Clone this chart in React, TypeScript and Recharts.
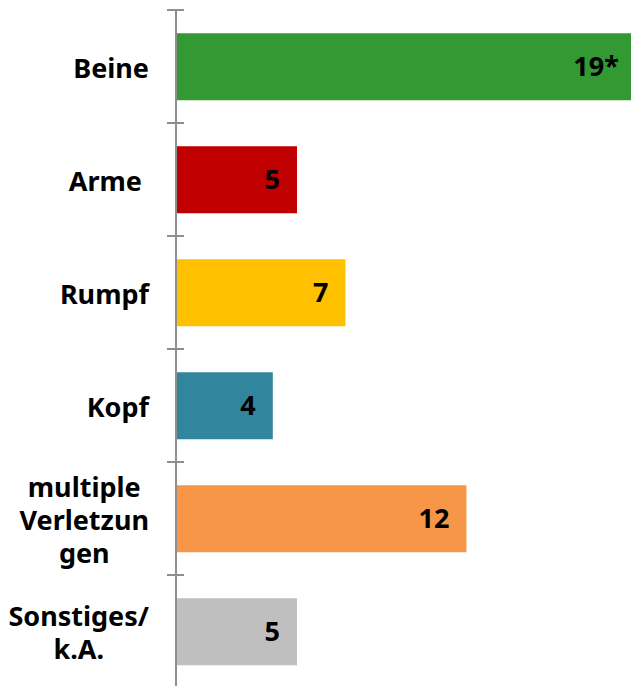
import { BarChart, Bar, XAxis, YAxis, Cell, LabelList } from 'recharts'

const categories = ['Beine', 'Arme ', 'Rumpf', 'Kopf', 'multiple Verletzungen', 'Sonstiges/ k.A.']
const tickLines = [['Beine'], ['Arme '], ['Rumpf'], ['Kopf'], ['multiple', 'Verletzun', 'gen'], ['Sonstiges/', 'k.A.']]
const values = [19, 5, 7, 4, 12, 5]
const valueLabels = ['19*', '5', '7', '4', '12', '5']
const colors = ['#339933', '#C00000', '#FFC000', '#31859C', '#F79646', '#BFBFBF']

const data = categories.map((name, i) => ({ name, value: values[i], label: valueLabels[i] }))

const FONT = '"Noto Sans", Roboto, sans-serif'
const FONT_SIZE = 27
const LINE_H = 33

let ctx: CanvasRenderingContext2D | null = null
function textWidth(s: string) {
  if (!ctx) ctx = document.createElement('canvas').getContext('2d')
  if (!ctx) return s.length * 15
  ctx.font = `bold ${FONT_SIZE}px ${FONT}`
  return ctx.measureText(s).width
}

function CategoryTick(props: any) {
  const { x, y, payload, index } = props
  const lines = tickLines[payload.index ?? index] ?? [String(payload.value)]
  const half = payload.offset ?? 0
  const right = x - 27
  const top = y - ((lines.length - 1) * LINE_H) / 2
  const maxW = Math.max(...lines.map(textWidth))
  const multi = lines.length > 1
  const tx = multi ? right - maxW / 2 : right
  return (
    <g>
      <line x1={x - 9} x2={x + 8} y1={y - half} y2={y - half} stroke="#8e8e8e" strokeWidth={2} />
      {index === categories.length - 1 && (
        <line x1={x - 9} x2={x + 8} y1={y + half} y2={y + half} stroke="#8e8e8e" strokeWidth={2} />
      )}
      <text
        x={tx}
        y={top}
        textAnchor={multi ? 'middle' : 'end'}
        dominantBaseline="central"
        fontFamily={FONT}
        fontSize={FONT_SIZE}
        fontWeight="bold"
        fill="#000"
        style={{ whiteSpace: 'pre' }}
      >
        {lines.map((l, i) => (
          <tspan key={i} x={tx} y={top + i * LINE_H} dominantBaseline="central">
            {l}
          </tspan>
        ))}
      </text>
    </g>
  )
}

export default function App() {
  return (
    <div style={{ position: 'absolute', top: 0, left: 0, width: 631, height: 686, overflow: 'hidden', background: '#fff', fontFamily: FONT }}>
      <BarChart
        width={631}
        height={700}
        data={data}
        layout="vertical"
        margin={{ top: 10, right: 0, bottom: 12, left: 0 }}
        barCategoryGap="20.5%"
      >
        <XAxis type="number" domain={[0, 18.8]} allowDataOverflow hide />
        <YAxis
          type="category"
          dataKey="name"
          width={176}
          interval={0}
          axisLine={{ stroke: '#8e8e8e', strokeWidth: 2 }}
          tickLine={false}
          tickSize={0}
          tickMargin={0}
          tick={<CategoryTick />}
        />
        <Bar dataKey="value" isAnimationActive={false}>
          {data.map((d, i) => (
            <Cell key={d.name} fill={colors[i]} />
          ))}
          <LabelList
            dataKey="label"
            position="insideRight"
            offset={17}
            fill="#000"
            fontSize={FONT_SIZE}
            fontWeight="bold"
            fontFamily={FONT}
          />
        </Bar>
      </BarChart>
    </div>
  )
}
